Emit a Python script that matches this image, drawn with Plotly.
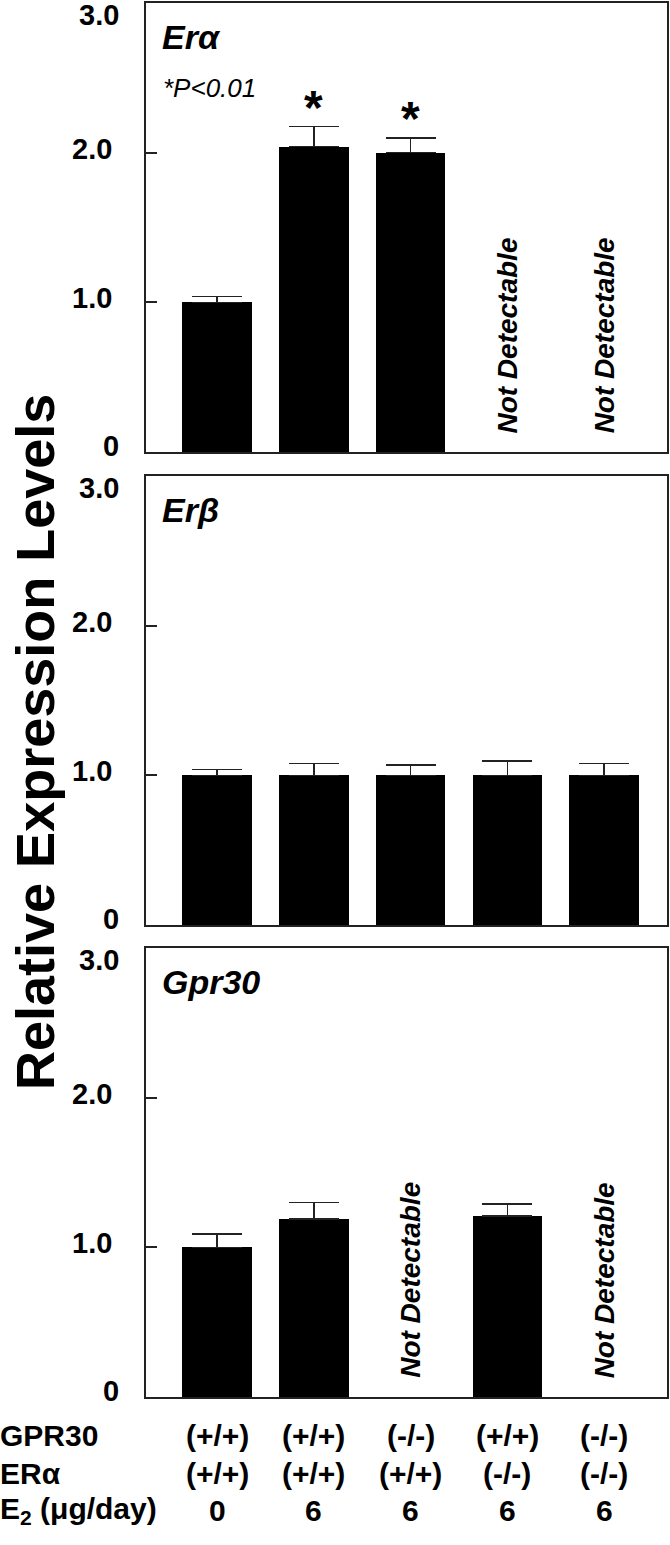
import plotly.graph_objects as go

# categories (x positions 0..4) and table rows under the plot
positions = [0, 1, 2, 3, 4]
gpr30_geno = ["(+/+)", "(+/+)", "(-/-)", "(+/+)", "(-/-)"]
era_geno = ["(+/+)", "(+/+)", "(+/+)", "(-/-)", "(-/-)"]
e2_dose = ["0", "6", "6", "6", "6"]

# relative expression levels, None = not detectable
era_vals = [1.0, 2.04, 2.0, None, None]
era_err = [0.04, 0.135, 0.10, 0, 0]
erb_vals = [1.0, 1.0, 1.0, 1.0, 1.0]
erb_err = [0.04, 0.08, 0.07, 0.095, 0.08]
gpr_vals = [1.0, 1.19, None, 1.21, None]
gpr_err = [0.09, 0.11, 0, 0.08, 0]

panel_names = ["Erα", "Erβ", "Gpr30"]
signif = [False, True, True, False, False]  # *P<0.01 in Erα panel

FONT = "Liberation Sans, Arial, sans-serif"
W, H = 670, 1545

panels = [
    (era_vals, era_err, (3, 452)),
    (erb_vals, erb_err, (476, 925)),
    (gpr_vals, gpr_err, (948, 1397)),
]

tickfont = dict(family=FONT, size=29, color="black", weight="bold")

fig = go.Figure()

for i, (vals, err, (top, bot)) in enumerate(panels):
    n = "" if i == 0 else str(i + 1)
    fig.add_trace(go.Bar(
        x=positions, y=vals,
        width=0.72,
        marker=dict(color="black", line=dict(width=0)),
        error_y=dict(type="data", array=err, arrayminus=[0] * 5,
                     symmetric=False, color="#222", thickness=1.6, width=25),
        xaxis="x" + n, yaxis="y" + n,
        showlegend=False,
    ))
    dom = [1 - bot / H, 1 - top / H]
    fig.layout["xaxis" + n] = dict(
        domain=[146 / W, 667 / W], range=[-0.734, 4.65],
        showticklabels=False, ticks="", showgrid=False, zeroline=False,
        showline=True, mirror=True, linecolor="#222", linewidth=1.6,
        anchor="y" + n, automargin=False,
    )
    fig.layout["yaxis" + n] = dict(
        domain=dom, range=[0, 3],
        tickvals=[1, 2], ticktext=["1.0", "2.0"],
        ticks="inside", ticklen=11, tickwidth=1.6, tickcolor="#222",
        ticklabelstandoff=26, ticklabelshift=-4,
        tickfont=tickfont,
        showgrid=False, zeroline=False,
        showline=True, mirror=True, linecolor="#222", linewidth=1.6,
        anchor="x" + n, automargin=False,
    )
    # end labels of the y axis, nudged inward like the original
    for val, txt, shift in [(0, "0", 6), (3, "3.0", -12)]:
        fig.add_annotation(
            text=txt, xref="paper", yref="y" + n, x=121 / W, y=val,
            xanchor="right", yanchor="middle", yshift=shift,
            showarrow=False, font=tickfont,
        )
    # panel name
    fig.add_annotation(
        text="<b><i>%s</i></b>" % panel_names[i],
        xref="paper", yref="paper", x=160 / W, y=1 - (top + 34) / H,
        xanchor="left", yanchor="middle", showarrow=False,
        font=dict(family=FONT, size=34, color="black"),
    )
    # not detectable labels
    for p, v in zip(positions, vals):
        if v is None:
            fig.add_annotation(
                text="<b><i>Not Detectable</i></b>",
                xref="x" + n, yref="y" + n, x=p, y=0.78,
                xanchor="center", yanchor="middle",
                textangle=-90, showarrow=False,
                font=dict(family=FONT, size=28, color="black"),
            )

# significance marks in the Erα panel
fig.add_annotation(
    text="<i>*P<0.01</i>", xref="paper", yref="paper",
    x=161 / W, y=1 - 88 / H, xanchor="left", yanchor="middle",
    showarrow=False, font=dict(family=FONT, size=26, color="black"),
)
for p, v, e, s in zip(positions, era_vals, era_err, signif):
    if s:
        fig.add_annotation(
            text="<b>*</b>", xref="x", yref="y", x=p, y=v + e + 0.125,
            xanchor="center", yanchor="middle",
            showarrow=False, font=dict(family=FONT, size=48, color="black"),
        )

# y-axis title shared by all panels
fig.add_annotation(
    text="<b>Relative Expression Levels</b>", xref="paper", yref="paper",
    x=35 / W, y=1 - 742 / H, xanchor="center", yanchor="middle",
    textangle=-90, showarrow=False,
    font=dict(family=FONT, size=54, color="black"),
)

# genotype / dose table under the bottom panel
rows = [("GPR30", gpr30_geno, 1435), ("ERα", era_geno, 1473),
        ("E<sub>2</sub> (μg/day)", e2_dose, 1510)]
for label, cells, ypx in rows:
    fig.add_annotation(
        text="<b>%s</b>" % label, xref="paper", yref="paper",
        x=-2 / W, y=1 - ypx / H, xanchor="left", yanchor="middle",
        showarrow=False, font=dict(family=FONT, size=30, color="black"),
    )
    for p, c in zip(positions, cells):
        fig.add_annotation(
            text="<b>%s</b>" % c, xref="x3", yref="paper",
            x=p, y=1 - ypx / H, xanchor="center", yanchor="middle",
            showarrow=False, font=dict(family=FONT, size=30, color="black"),
        )

fig.update_layout(
    width=W, height=H,
    margin=dict(l=0, r=0, t=0, b=0, autoexpand=False),
    paper_bgcolor="white", plot_bgcolor="white",
    bargap=0,
)

# drop the browser's default page margin so the figure sits at (0, 0)
fig.write_html("out.html",
               config={"displayModeBar": False},
               post_script="document.body.style.margin='0';"
                           "document.body.style.padding='0';")
